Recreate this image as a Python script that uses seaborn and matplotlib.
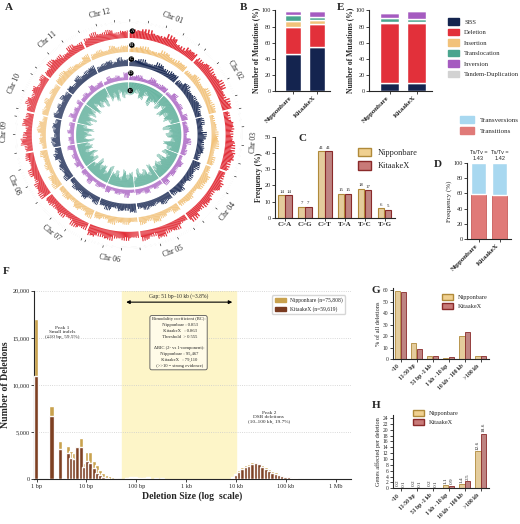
import numpy as np
import pandas as pd
import matplotlib
matplotlib.use("Agg")
import matplotlib.pyplot as plt
import seaborn as sns
from matplotlib.patches import Patch

sns.set_style("ticks")
plt.rcParams['font.family'] = ['Liberation Serif', 'DejaVu Sans']
plt.rcParams['font.size'] = 5

# ---------------- data ----------------
chroms = ["Chr 01","Chr 02","Chr 03","Chr 04","Chr 05","Chr 06","Chr 07","Chr 08","Chr 09","Chr 10","Chr 11","Chr 12"]
chrom_len = [43,36,36,35,30,31,30,28,23,23,29,27]
ring_red = "786957687968576897685769587968576879685767986857697586796857697586797856"
ring_yel = "564756475867456746587465746857465746857465874657465874657465786547564756"
ring_nav = "675867586786758675867586785675867586758675867586785675867586758678567586"
ring_pur = "453645374536453745364537453645374536453745364537453645374536453745364537"
ring_tea = "546475647564756475647565746574657465746574657465746574657465746574657465"

samples = ["Nipponbare", "KitaakeX"]
mut_types = ["SBS","Deletion","Insertion","Translocation","Inversion","Tandem-Duplication"]
mut_colors = ["#14244f","#e2303a","#f2c27a","#4aa58e","#a55bc0","#d2d2d2"]
B_nip = [46,33,8,7,5,1]
B_kit = [55,28,5,4,7,1]
E_nip = [10,75,1,4,7,1]
E_kit = [9,76,1,3,10,1]

sbs_types = ["C>A","C>G","C>T","T>A","T>C","T>G"]
C_nip = [14,7,41,15,18,6]
C_kit = [14,7,41,15,17,5]

D_ts = [59,58]
D_tv = [41,42]
D_ratio = ["1.43","1.42"]

F_size = [1,2,3,4.2,4.9,5.7,6.6,7.7,8.9,10.4,12,14,16.3,19,22,25.6,29.7,34.5,40,
          65,80,95,115,140,170,250,330,
          8500,9900,11500,13400,15600,18200,21200,24700,28800,33500,39000,45500,53000,
          61700,71900,83700,97500,113600,132300,154100,179500,209100,243500,283700,330400,384900,448300]
F_nip = [17000,7800,4100,3500,3000,2800,3600,4400,1700,2900,2900,2000,1500,1000,700,500,350,300,150,
         200,220,250,180,200,220,120,120,
         300,600,1000,1300,1500,1650,1800,1800,1750,1550,1300,1100,900,
         750,600,450,350,280,220,180,130,100,80,60,40,30,20]
F_kit = [11000,6700,3200,2800,2300,2200,3400,3400,1300,2000,1700,1200,700,500,300,200,100,80,50,
         150,180,200,130,150,170,90,90,
         200,500,800,1100,1350,1400,1650,1700,1600,1300,1100,900,700,
         600,450,350,280,220,160,120,90,70,50,40,30,20,10]

size_cats = ["<10","11-50 bp","51 bp -1 kb","1 kb - 10 kp","10 kb - 100 kb",">100 kb"]
G_nip = [59.5,14,2.5,1,19.7,2.5]
G_kit = [59,9,3,1.5,24,2.5]
H_nip = [0.2,0.2,0.2,1.1,1.4,12.6]
H_kit = [0.1,0.1,0.1,0.9,2.5,18.6]

NIP_C, KIT_C = "#f0d090", "#c87a78"
NIP_E, KIT_E = "#b08a3a", "#8a2a2a"

fig = plt.figure(figsize=(5.2, 5.24), dpi=100)

def letter(x, y, s):
    fig.text(x, y, s, fontsize=8, fontweight="bold", family="Liberation Serif", ha="left", va="top")

def style(ax):
    sns.despine(ax=ax)
    ax.tick_params(labelsize=4.5, length=2, width=0.6, pad=1)
    for s in ax.spines.values():
        s.set_linewidth(0.8)

# ---------------- A: circos ----------------
axA = fig.add_axes([0.005, 0.50, 0.485, 0.485], projection="polar")
axA.set_theta_zero_location("N"); axA.set_theta_direction(-1)
axA.set_ylim(0, 1.08); axA.axis("off")
gap = 0.02
total = sum(chrom_len)
span = 2*np.pi - gap*len(chroms)
starts = []
t = gap/2
for L in chrom_len:
    starts.append(t); t += L/total*span + gap
rings = [(ring_red, "#e2303a", 0.83, 0.10, 1), (ring_yel, "#f2c27a", 0.71, 0.09, 1),
         (ring_nav, "#14244f", 0.59, 0.09, 1), (ring_pur, "#a55bc0", 0.47, 0.09, 1),
         (ring_tea, "#4aa58e", 0.45, 0.20, -1)]
for vals, col, base, h, d in rings:
    v = [int(c) for c in vals]
    k = 0
    for ci, L in enumerate(chrom_len):
        w = L/total*span
        n = 6
        th = starts[ci] + (np.arange(n)+0.5)*w/n
        for j in range(n):
            sub = np.linspace(th[j]-w/n/2, th[j]+w/n/2, 9)[:-1]
            hh = v[k]/9*h
            hs = hh*(0.55+0.45*np.abs(np.sin(np.arange(8)*1.7+k)))
            axA.bar(sub, d*hs, width=w/n/8, bottom=base, color=col, linewidth=0, align="edge")
            k += 1
for ci, L in enumerate(chrom_len):
    w = L/total*span
    axA.bar(starts[ci], 0.012, width=w, bottom=0.96, color="k", align="edge")
    mid = starts[ci] + w/2
    rot = -np.degrees(mid)
    axA.text(mid, 1.07, chroms[ci], rotation=rot if np.cos(mid) > 0 else rot+180,
             ha="center", va="center", fontsize=5.5)
    for tk in range(0, L, 10):
        a = starts[ci] + tk/total*span
        axA.plot([a, a], [0.972, 0.99], color="k", lw=0.4)
for i, (lab, r) in enumerate(zip("ABCDE", [0.89, 0.77, 0.65, 0.53, 0.38])):
    axA.text(0.035, r, lab, fontsize=3.5, color="white", ha="center", va="center",
             bbox=dict(boxstyle="circle,pad=0.15", fc="black", ec="none"))
letter(0.01, 0.995, "A")

# ---------------- B and E ----------------
def stacked(rect, nip, kit):
    ax = fig.add_axes(rect)
    bottom = np.zeros(2)
    for i, col in enumerate(mut_colors):
        df = pd.DataFrame({"sample": samples, "val": [nip[i], kit[i]]})
        ax.bar(df["sample"], df["val"], bottom=bottom, color=col, width=0.7)
        bottom += df["val"].values
    ax.set_ylim(0, 100); ax.set_yticks(range(0, 101, 20))
    ax.set_ylabel("Number of Mutations (%)", fontsize=5.5, fontweight="bold", labelpad=1)
    ax.set_xlim(-0.75, 1.55)
    style(ax)
    ax.set_xticks([0, 1]); ax.set_xticklabels(samples, rotation=45, ha="right", fontweight="bold", fontsize=5)
    return ax
stacked([0.529, 0.827, 0.106, 0.153], B_nip, B_kit)
letter(0.462, 0.995, "B")
stacked([0.71, 0.827, 0.12, 0.153], E_nip, E_kit)
letter(0.648, 0.995, "E")
fig.legend(handles=[Patch(color=c, label=m) for m, c in zip(mut_types, mut_colors)],
           loc="upper left", bbox_to_anchor=(0.862, 0.965), frameon=False, fontsize=4.8,
           handlelength=1.6, handleheight=1.1, labelspacing=0.6, borderaxespad=0, borderpad=0)

# ---------------- C ----------------
axC = fig.add_axes([0.529, 0.584, 0.23, 0.155])
dfC = pd.DataFrame({"type": sbs_types*2, "sample": np.repeat(samples, 6), "val": C_nip + C_kit})
sns.barplot(data=dfC, x="type", y="val", hue="sample", palette=[NIP_C, KIT_C], ax=axC,
            width=0.7, gap=0.1, linewidth=0.8, legend=False)
for p, col in zip(axC.patches, [NIP_E]*6 + [KIT_E]*6):
    p.set_edgecolor(col)
for cont in axC.containers:
    axC.bar_label(cont, fontsize=3.5, padding=1)
axC.set_ylim(0, 50); axC.set_yticks(range(0, 51, 10))
axC.set_xlabel(""); axC.set_ylabel("Frequency (%)", fontsize=5.5, fontweight="bold", labelpad=1)
style(axC)
for l in axC.get_xticklabels(): l.set_fontweight("bold")
axC.tick_params(axis="x", labelsize=5)
letter(0.574, 0.745, "C")
fig.legend(handles=[Patch(fc=NIP_C, ec=NIP_E, label="Nipponbare"), Patch(fc=KIT_C, ec=KIT_E, label="KitaakeX")],
           loc="upper left", bbox_to_anchor=(0.688, 0.718), frameon=False, fontsize=6,
           handlelength=1.6, handleheight=1.2, borderaxespad=0, borderpad=0)

# ---------------- D ----------------
axD = fig.add_axes([0.898, 0.544, 0.085, 0.145])
axD.bar(samples, D_ts, color="#e07a78", edgecolor="#c04a48", width=0.75, lw=0.5)
axD.bar(samples, D_tv, bottom=D_ts, color="#a8d8f0", width=0.75)
axD.set_ylim(0, 100); axD.set_yticks(range(0, 101, 20))
axD.set_xlim(-0.55, 1.55)
axD.set_ylabel("Frequency (%)", fontsize=5, labelpad=1)
style(axD)
axD.set_xticks([0, 1]); axD.set_xticklabels(samples, rotation=45, ha="right", fontweight="bold", fontsize=5)
for i, r in enumerate(D_ratio):
    axD.text(i, 103, "Ts/Tv =\n" + r, ha="center", va="bottom", fontsize=4, family="Liberation Sans")
letter(0.835, 0.695, "D")
fig.legend(handles=[Patch(color="#a8d8f0", label="Transversions"), Patch(color="#e07a78", label="Transitions")],
           loc="upper left", bbox_to_anchor=(0.885, 0.778), frameon=False, fontsize=5,
           handlelength=2.0, handleheight=1.2, borderaxespad=0, borderpad=0)

# ---------------- F ----------------
axF = fig.add_axes([0.065, 0.085, 0.61, 0.36])
axF.set_xscale("log")
axF.axvspan(51, 10000, color="#fdf5c8", zorder=0)
fs = np.array(F_size, dtype=float)
w = fs*(10**0.04 - 10**-0.04)
axF.bar(fs, F_nip, width=w, color="#c9a24e", zorder=2)
axF.bar(fs, F_kit, width=w, color="#7a3b20", alpha=0.95, zorder=3)
axF.set_xlim(0.88, 2e6); axF.set_ylim(0, 20000)
axF.set_yticks(range(0, 20001, 5000)); axF.set_yticklabels(["0","5,000","10,000","15,000","20,000"])
axF.set_xticks([1, 10, 100, 1000, 1e4, 1e5, 1e6]); axF.set_xticklabels(["1 bp","10 bp","100 bp","1 kb","10 kb","100 kb","1 Mb"])
axF.xaxis.set_minor_locator(matplotlib.ticker.NullLocator())
axF.yaxis.grid(True, ls=":", color="#cccccc", lw=0.6)
axF.set_xlabel("Deletion Size (log  scale)", fontsize=7, fontweight="bold", labelpad=2)
axF.set_ylabel("Number of Deletions", fontsize=7, fontweight="bold", labelpad=2)
style(axF)
axF.annotate("", xy=(55, 18800), xytext=(9500, 18800), arrowprops=dict(arrowstyle="<|-|>", lw=0.8, color="k", mutation_scale=5))
axF.text(700, 19300, "Gap: 51 bp\u201310 kb (~3.8%)", ha="center", fontsize=4)
axF.text(700, 14500, "Bimodality coefficient (BC):\n  Nipponbare : 0.853\n  KitaakeX   : 0.863\n  Threshold  > 0.555\n\n"
         "  \u0394BIC (2- vs 1-component):\n  Nipponbare : 95,467\n  KitaakeX   : 79,110\n  (>>10 = strong evidence)",
         ha="center", va="center", fontsize=3.3, linespacing=1.6,
         bbox=dict(boxstyle="round,pad=0.4", fc="#fffbe8", ec="#555555", lw=0.6))
axF.text(3.2, 15000, "Peak 1\nSmall indels\n(\u226410 bp, 59.5%)", ha="center", fontsize=3.8)
axF.text(45000, 6000, "Peak 2\nDSB deletions\n(10\u2013100 kb, 19.7%)", ha="center", fontsize=3.8)
axF.legend(handles=[Patch(color="#c9a24e", label="Nipponbare (n=75,808)"), Patch(color="#7a3b20", label="KitaakeX (n=59,619)")],
           loc="upper right", fontsize=4, frameon=True, edgecolor="#cccccc", bbox_to_anchor=(0.99, 0.99))
letter(0.005, 0.49, "F")

# ---------------- G, H ----------------
def grouped(rect, nip, kit, ylim, yt, ylabel, labels):
    ax = fig.add_axes(rect)
    df = pd.DataFrame({"cat": size_cats*2, "sample": np.repeat(samples, 6), "val": nip + kit})
    sns.barplot(data=df, x="cat", y="val", hue="sample", palette=[NIP_C, KIT_C], ax=ax,
                width=0.7, gap=0.08, linewidth=0.6, legend=False)
    for p, col in zip(ax.patches, [NIP_E]*6 + [KIT_E]*6):
        p.set_edgecolor(col)
    if labels:
        for cont, v in zip(ax.containers, [nip, kit]):
            ax.bar_label(cont, labels=[str(x) for x in v], rotation=90, fontsize=3.8, padding=1)
    ax.set_ylim(*ylim); ax.set_yticks(yt)
    ax.set_xlabel(""); ax.set_ylabel(ylabel, fontsize=4.5, labelpad=1)
    style(ax)
    ax.tick_params(labelsize=4)
    ax.set_xticks(range(6)); ax.set_xticklabels(size_cats, rotation=45, ha="right", fontweight="bold", fontsize=4)
    ax.legend(handles=[Patch(fc=NIP_C, ec=NIP_E, label="Nipponbare"), Patch(fc=KIT_C, ec=KIT_E, label="KitaakeX")],
              loc="upper right" if not labels else "upper left", frameon=False, fontsize=4.5,
              handlelength=1.8, handleheight=1.1, bbox_to_anchor=(1.05, 1.0) if not labels else (0.15, 1.15))
    return ax
grouped([0.755, 0.315, 0.185, 0.135], G_nip, G_kit, (0, 62), range(0, 61, 10), "% of all deletions", False)
letter(0.715, 0.455, "G")
grouped([0.755, 0.068, 0.185, 0.14], H_nip, H_kit, (0, 25), range(0, 25, 2), "Genes affected per deletion", True)
letter(0.715, 0.235, "H")

fig.savefig("out.png", dpi=100)
